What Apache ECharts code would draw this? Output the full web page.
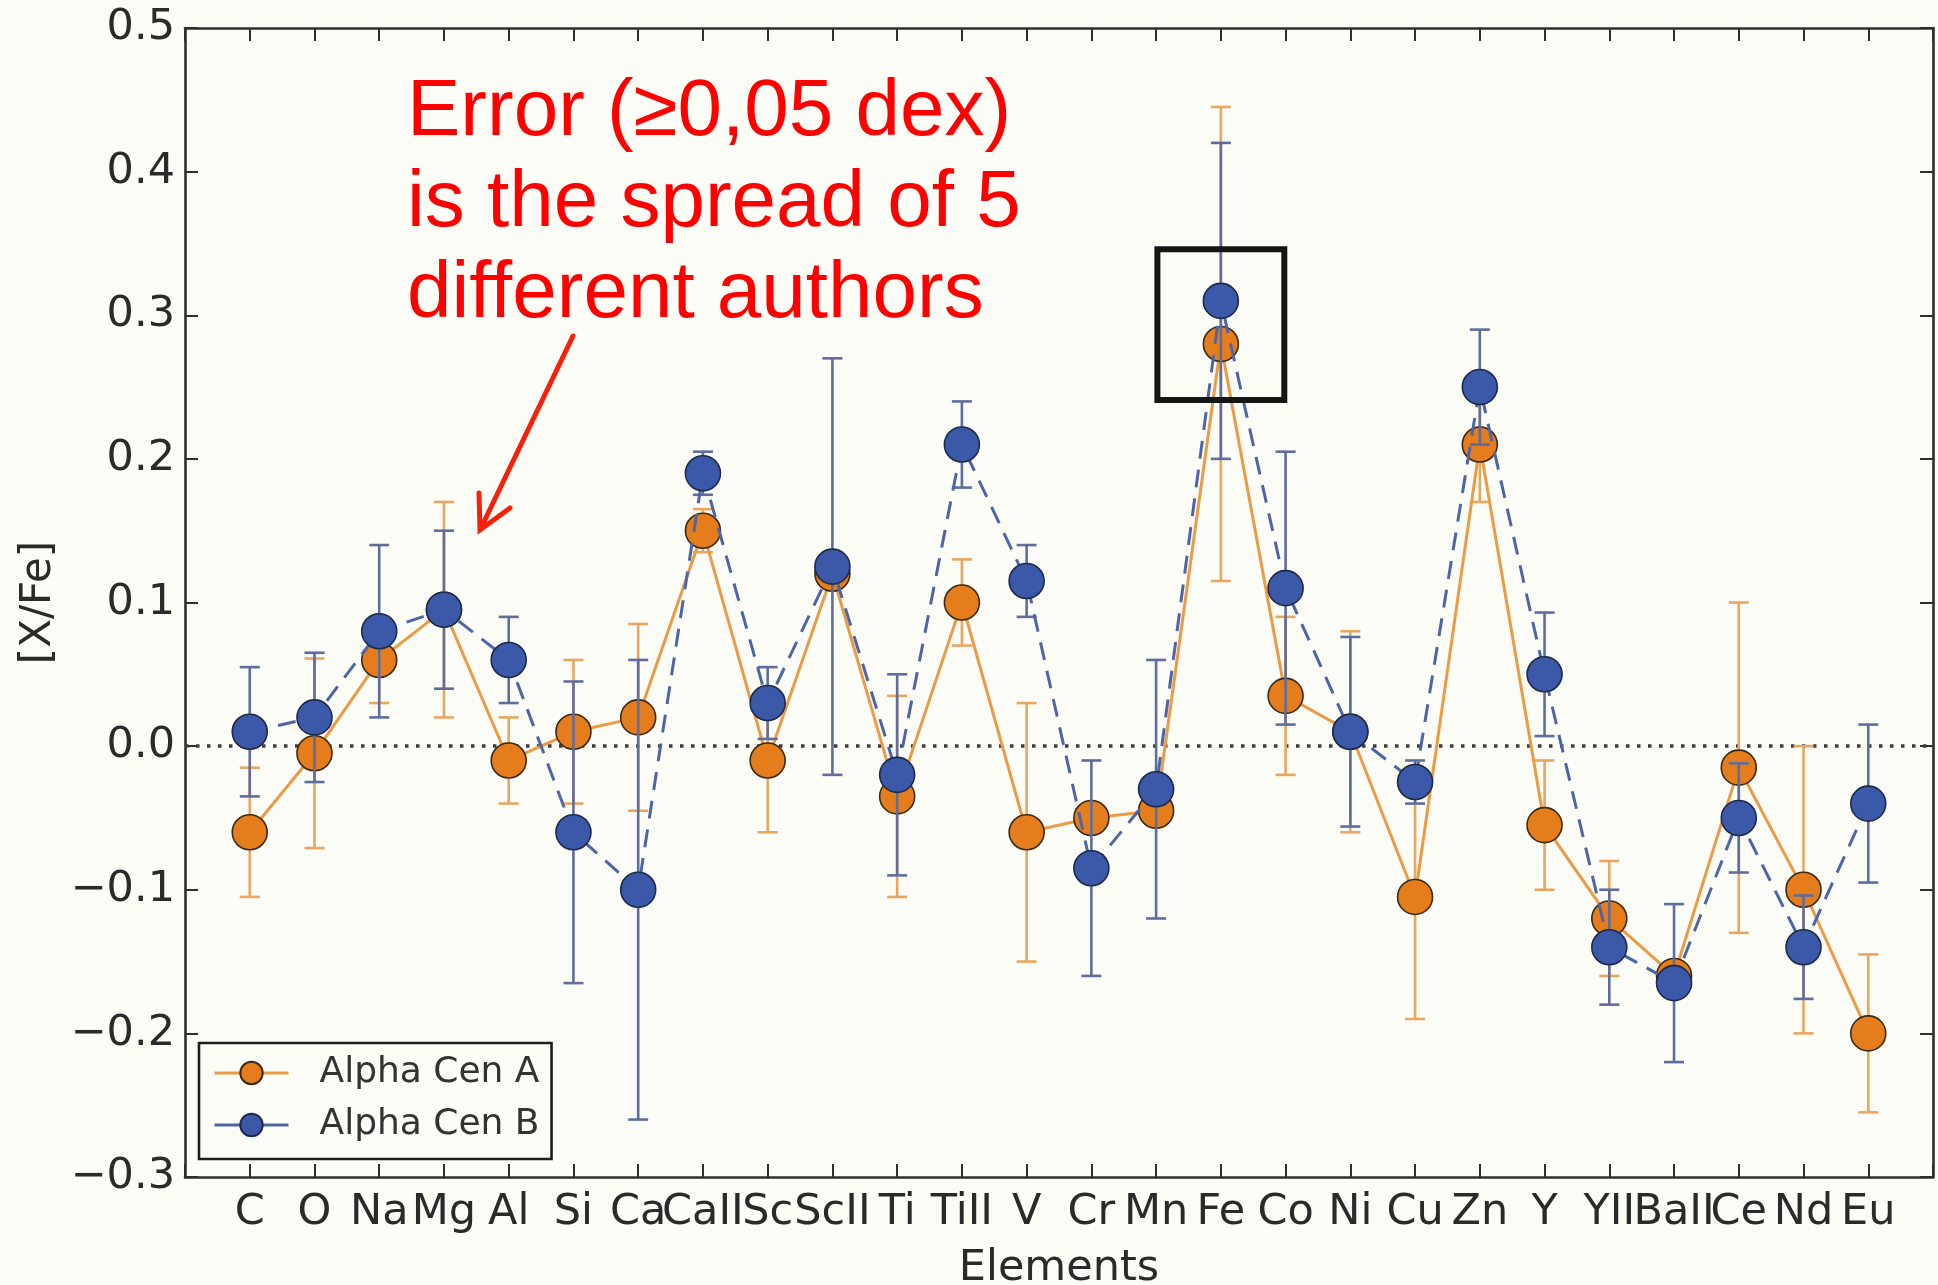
<!DOCTYPE html>
<html>
<head>
<meta charset="utf-8">
<title>[X/Fe] — Alpha Cen A / B</title>
<script src="https://cdn.jsdelivr.net/npm/echarts@6/dist/echarts.min.js"></script>
<style>
  html, body { margin: 0; padding: 0; background: #fcfcf6; }
  #chart { width: 1938px; height: 1285px; }
</style>
</head>
<body>
<div id="chart"></div>
<script>
// Element abundances relative to iron, [X/Fe], for the two components
const elements = ['C', 'O', 'Na', 'Mg', 'Al', 'Si', 'Ca', 'CaII', 'Sc', 'ScII', 'Ti', 'TiII', 'V',
  'Cr', 'Mn', 'Fe', 'Co', 'Ni', 'Cu', 'Zn', 'Y', 'YII', 'BaII', 'Ce', 'Nd', 'Eu'];

const cenA = [-0.06, -0.005, 0.06, 0.095, -0.01, 0.01, 0.02, 0.15, -0.01, 0.12, -0.035, 0.10, -0.06,
  -0.05, -0.045, 0.28, 0.035, 0.01, -0.105, 0.21, -0.055, -0.12, -0.16, -0.015, -0.10, -0.20];
const errA = [0.045, 0.066, 0.03, 0.075, 0.03, 0.05, 0.065, 0.015, 0.05, 0.01, 0.07, 0.03, 0.09,
  0.01, 0.01, 0.165, 0.055, 0.07, 0.085, 0.04, 0.045, 0.04, 0.01, 0.115, 0.10, 0.055];

const cenB = [0.01, 0.02, 0.08, 0.095, 0.06, -0.06, -0.10, 0.19, 0.03, 0.125, -0.02, 0.21, 0.115,
  -0.085, -0.03, 0.31, 0.11, 0.01, -0.025, 0.25, 0.05, -0.14, -0.165, -0.05, -0.14, -0.04];
const errB = [0.045, 0.045, 0.06, 0.055, 0.03, 0.105, 0.16, 0.015, 0.025, 0.145, 0.07, 0.03, 0.025,
  0.075, 0.09, 0.11, 0.095, 0.066, 0.015, 0.04, 0.043, 0.04, 0.055, 0.038, 0.036, 0.055];

const yTicks = [-0.3, -0.2, -0.1, 0.0, 0.1, 0.2, 0.3, 0.4, 0.5];

const noteLines = ['Error (\u22650,05 dex)', 'is the spread of 5', 'different authors'];

const FONT = '"DejaVu Sans", "Bitstream Vera Sans", sans-serif';
const BG = '#fcfcf6';
const AXIS_COLOR = '#2e2e2e';
const TEXT_COLOR = '#2a2a2a';

const colA = { fill: '#e57d1c', line: '#eb9a45', err: '#e9a660' };
const colB = { fill: '#3b59a8', line: '#4d65a6', err: '#5e6c9e' };

const points = (cen) => cen.map((v, i) => [i, v]);
const bars = (cen, err) => cen.map((v, i) => [i, v - err[i], v + err[i]]);

function errorBarSeries(name, data, color, z) {
  return {
    name: name,
    type: 'custom',
    data: data,
    encode: { x: 0, y: [1, 2] },
    silent: true,
    z: z,
    renderItem: function (params, api) {
      const x = api.value(0);
      const top = api.coord([x, api.value(2)]);
      const bot = api.coord([x, api.value(1)]);
      const half = 10;
      const style = { stroke: color, lineWidth: 2.6 };
      return {
        type: 'group',
        children: [
          { type: 'line', shape: { x1: top[0], y1: top[1], x2: bot[0], y2: bot[1] }, style: style },
          { type: 'line', shape: { x1: top[0] - half, y1: top[1], x2: top[0] + half, y2: top[1] }, style: style },
          { type: 'line', shape: { x1: bot[0] - half, y1: bot[1], x2: bot[0] + half, y2: bot[1] }, style: style }
        ]
      };
    }
  };
}

const tickFmt = (v) => {
  const r = Math.round(v * 10) / 10;
  const s = Math.abs(r).toFixed(1);
  return r < 0 ? '\u2212' + s : s;
};

const chart = echarts.init(document.getElementById('chart'), null, { renderer: 'canvas' });

const axisLineStyle = { color: AXIS_COLOR, width: 2.6 };
const tickStyle = { color: AXIS_COLOR, width: 2 };

chart.setOption({
  backgroundColor: BG,
  animation: false,
  grid: { left: 185, right: 5, top: 28, bottom: 108, containLabel: false, outerBoundsMode: 'none' },
  legend: {
    data: ['Alpha Cen A', 'Alpha Cen B'],
    orient: 'vertical',
    left: 199,
    top: 1043,
    backgroundColor: BG,
    borderColor: '#1e1e1e',
    borderWidth: 2.6,
    borderRadius: 0,
    padding: [12, 12, 16, 14],
    itemWidth: 74,
    itemHeight: 28,
    itemGap: 16,
    lineStyle: { type: 'solid', width: 3 },
    textStyle: { fontFamily: FONT, fontSize: 36, color: '#333', padding: [0, 0, 0, 26] }
  },
  xAxis: [
    {
      type: 'value', min: -1, max: 26, interval: 1, position: 'bottom',
      name: 'Elements', nameLocation: 'middle', nameGap: 70,
      nameTextStyle: { fontFamily: FONT, fontSize: 43, color: TEXT_COLOR },
      axisLine: { show: true, onZero: false, lineStyle: axisLineStyle },
      axisTick: { show: true, inside: true, length: 13, lineStyle: tickStyle },
      splitLine: { show: false },
      axisLabel: {
        fontFamily: FONT, fontSize: 43, color: TEXT_COLOR, margin: 14,
        formatter: (v) => (elements[v] !== undefined ? elements[v] : '')
      }
    },
    {
      type: 'value', min: -1, max: 26, interval: 1, position: 'top',
      axisLine: { show: true, onZero: false, lineStyle: axisLineStyle },
      axisTick: { show: true, inside: true, length: 13, lineStyle: tickStyle },
      splitLine: { show: false },
      axisLabel: { show: false }
    }
  ],
  yAxis: [
    {
      type: 'value', min: -0.3, max: 0.5, interval: 0.1, position: 'left',
      name: '[X/Fe]', nameLocation: 'middle', nameGap: 123, nameRotate: 90,
      nameTextStyle: { fontFamily: FONT, fontSize: 42, color: TEXT_COLOR },
      axisLine: { show: true, onZero: false, lineStyle: axisLineStyle },
      axisTick: { show: true, inside: true, length: 13, lineStyle: tickStyle },
      splitLine: { show: false },
      axisLabel: { fontFamily: FONT, fontSize: 43, color: TEXT_COLOR, margin: 10, formatter: tickFmt }
    },
    {
      type: 'value', min: -0.3, max: 0.5, interval: 0.1, position: 'right',
      axisLine: { show: true, onZero: false, lineStyle: axisLineStyle },
      axisTick: { show: true, inside: true, length: 13, lineStyle: tickStyle },
      splitLine: { show: false },
      axisLabel: { show: false }
    }
  ],
  series: [
    errorBarSeries('Alpha Cen A spread', bars(cenA, errA), colA.err, 2),
    {
      name: 'Alpha Cen A',
      type: 'line',
      data: points(cenA),
      z: 3,
      symbol: 'circle',
      symbolSize: 35,
      lineStyle: { color: colA.line, width: 3, type: 'solid' },
      itemStyle: { color: colA.fill, borderColor: '#3b2a14', borderWidth: 1.6 },
      markLine: {
        silent: true,
        symbol: 'none',
        z: 1,
        label: { show: false },
        lineStyle: { color: '#3c3c3c', width: 3.5, type: [3.5, 7.5] },
        data: [{ yAxis: 0 }]
      }
    },
    errorBarSeries('Alpha Cen B spread', bars(cenB, errB), colB.err, 4),
    {
      name: 'Alpha Cen B',
      type: 'line',
      data: points(cenB),
      z: 5,
      symbol: 'circle',
      symbolSize: 35,
      lineStyle: { color: colB.line, width: 3, type: [18, 11] },
      itemStyle: { color: colB.fill, borderColor: '#1e2a4a', borderWidth: 1.6 }
    }
  ]
});

// Frame around the Fe pair and the red note with its arrow
const c1 = chart.convertToPixel({ gridIndex: 0 }, [14.02, 0.346]);
const c2 = chart.convertToPixel({ gridIndex: 0 }, [15.98, 0.241]);

const RED = '#ff0000';
const noteFont = '80px "Liberation Sans", Arial, sans-serif';

chart.setOption({
  graphic: [
    {
      type: 'rect', z: 100, silent: true,
      shape: { x: c1[0], y: c1[1], width: c2[0] - c1[0], height: c2[1] - c1[1] },
      style: { fill: 'none', stroke: '#151515', lineWidth: 6 }
    },
    ...noteLines.map((t, k) => ({
      type: 'text', z: 100, silent: true,
      x: 407, y: 113 + k * 91,
      style: { text: t, font: noteFont, fill: RED, verticalAlign: 'middle', align: 'left' }
    })),
    {
      type: 'polyline', z: 100, silent: true,
      shape: { points: [[573, 336], [481, 528]] },
      style: { stroke: '#f7200a', lineWidth: 5, lineCap: 'round' }
    },
    {
      type: 'polyline', z: 100, silent: true,
      shape: { points: [[510, 508], [480, 530], [479, 493]] },
      style: { stroke: '#f7200a', lineWidth: 5, lineCap: 'round', lineJoin: 'miter', fill: 'none' }
    }
  ]
});
</script>
</body>
</html>
